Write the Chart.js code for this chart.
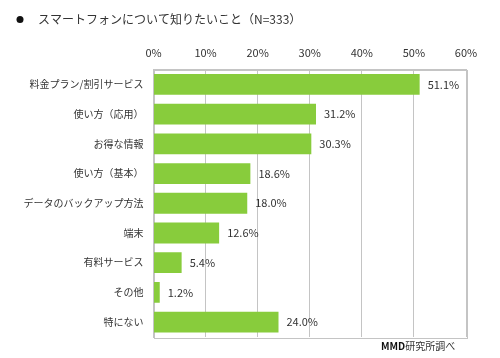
<!DOCTYPE html>
<html><head><meta charset="utf-8">
<script src="https://cdn.jsdelivr.net/npm/chart.js@4"></script>
<style>html,body{margin:0;padding:0;background:#fff}#wrap{width:500px;height:358px;position:relative}</style>
</head><body><div id="wrap"><canvas id="c" width="500" height="358"></canvas></div>
<script>
const categories = ["料金プラン/割引サービス","使い方（応用）","お得な情報","使い方（基本）","データのバックアップ方法","端末","有料サービス","その他","特にない"];
const values = [51.1,31.2,30.3,18.6,18.0,12.6,5.4,1.2,24.0];
const tickValues = [0,10,20,30,40,50,60];
const titleText = "スマートフォンについて知りたいこと（N=333）";
const sourceBold = "MMD";
const sourceRest = "研究所調べ";
const JP = '"Noto Sans CJK JP", "Noto Sans", sans-serif';

const decor = {
  id:'decor',
  afterDatasetsDraw(chart){
    const ctx = chart.ctx;
    const meta = chart.getDatasetMeta(0);
    ctx.save();
    ctx.font = '11px ' + JP;
    ctx.fillStyle = '#333';
    ctx.textBaseline = 'middle';
    ctx.textAlign = 'left';
    meta.data.forEach((bar,i)=>{
      ctx.fillText(values[i].toFixed(1)+'%', bar.x+8, bar.y);
    });
    ctx.restore();
  },
  afterDraw(chart){
    const ctx = chart.ctx;
    ctx.save();
    ctx.fillStyle = '#111';
    ctx.beginPath(); ctx.arc(20,19.5,3.5,0,Math.PI*2); ctx.fill();
    ctx.fillStyle = '#333';
    ctx.font = '12px ' + JP;
    ctx.textBaseline = 'middle';
    ctx.fillText(titleText, 38, 19.5);
    ctx.font = 'bold 10px ' + JP;
    ctx.fillStyle = '#111';
    const w = ctx.measureText(sourceBold).width;
    ctx.fillText(sourceBold, 381, 346);
    ctx.font = '10px ' + JP;
    ctx.fillStyle = '#333';
    ctx.fillText(sourceRest, 381+w, 346);
    ctx.restore();
  }
};

new Chart(document.getElementById('c'), {
  type:'bar',
  data:{labels:categories, datasets:[{data:values, backgroundColor:'#88cc3c', borderWidth:0, barPercentage:0.7, categoryPercentage:1.0}]},
  options:{
    indexAxis:'y', responsive:false, animation:false,
    layout:{padding:{left:0,right:34,top:0,bottom:21}},
    plugins:{legend:{display:false}, tooltip:{enabled:false}, title:{display:false}},
    scales:{
      x:{position:'top', min:0, max:60, afterBuildTicks(s){s.ticks = tickValues.map(v=>({value:v}));},
        ticks:{callback:v=>v+'%', font:{size:11, family:JP}, color:'#333', padding:10, maxRotation:0},
        grid:{color:'#c4c4c4', drawTicks:false, lineWidth:1},
        border:{display:true, color:'#c4c4c4'},
        afterFit(s){s.height = 69.5;}
      },
      y:{ticks:{font:{size:10, family:JP}, color:'#333', padding:10},
        grid:{display:false, drawTicks:false},
        border:{display:true, color:'#c4c4c4'},
        afterFit(s){s.width = 153.5;}
      }
    }
  },
  plugins:[decor, {id:'box', beforeDatasetsDraw(chart){const a=chart.chartArea,ctx=chart.ctx;ctx.save();ctx.strokeStyle='#c4c4c4';ctx.lineWidth=1;ctx.strokeRect(Math.round(a.left)+0.5,Math.round(a.top)+0.5,Math.round(a.right-a.left),Math.round(a.bottom-a.top));ctx.restore();}}]
});
</script></body></html>
